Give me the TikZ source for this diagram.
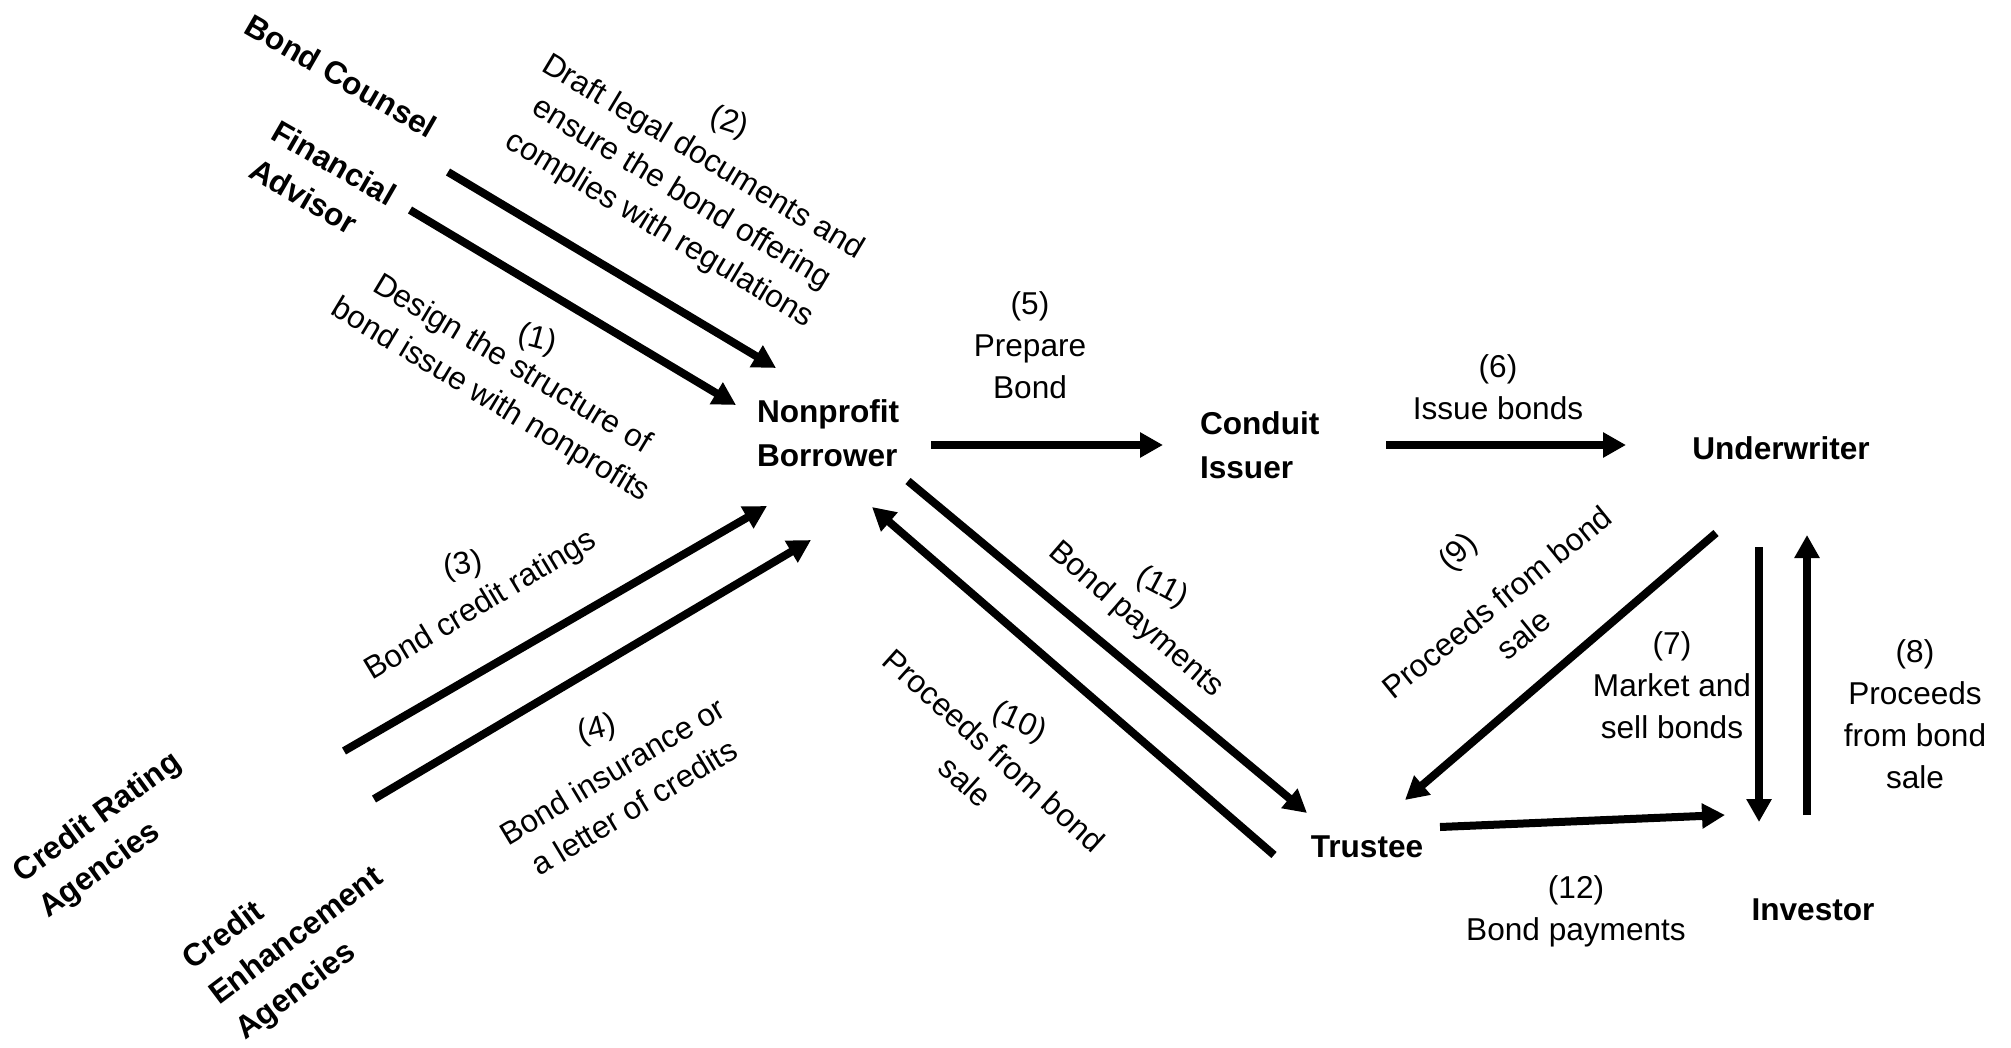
\documentclass[tikz,border=0pt]{standalone}
\usepackage{fontspec}
\setmainfont{Liberation Sans}
\usetikzlibrary{arrows.meta}
\begin{document}
\begin{tikzpicture}[x=0.5pt,y=-0.5pt,
  every node/.style={inner sep=0pt, outer sep=0pt},
  party/.style={font=\fontsize{15.8}{22}\selectfont\bfseries},
  lbl/.style={font=\fontsize{15.8}{21}\selectfont, align=center},
  num/.style={font=\fontsize{15.8}{21}\selectfont},
  flow/.style={line width=4pt, -{Triangle[length=11.5pt,width=12pt]}},
]
\useasboundingbox[fill=white] (0,0) rectangle (2011,1048);

% parties
\node[party, rotate=-30] (bc) at (341,76) {Bond Counsel};
\node[party, align=left, rotate=-30] (fa) at (323,182) {Financial\\Advisor};
\node[party, align=left, rotate=36] (cra) at (111,836) {Credit Rating\\Agencies};
\node[party, align=left, rotate=37] (cea) at (297,937) {Credit\\Enhancement\\Agencies};
\node[party, align=left, anchor=west] (nb) at (757,433) {Nonprofit\\Borrower};
\node[party, align=left, anchor=west] (ci) at (1200,445) {Conduit\\Issuer};
\node[party] (uw) at (1781,448) {Underwriter};
\node[party] (tr) at (1367,847) {Trustee};
\node[party] (inv) at (1813,910) {Investor};

% rotated labels: step number and text
\node[num, rotate=-18] (n2) at (729,123) {(2)};
\node[lbl, rotate=-31] (l2) at (681,194) {Draft legal documents and\\ensure the bond offering\\complies with regulations};
\node[num, rotate=-15] (n1) at (537,340) {(1)};
\node[lbl, rotate=-31] (l1) at (501,383) {Design the structure of\\bond issue with nonprofits};
\node[num, rotate=10] (n3) at (463,566) {(3)};
\node[lbl, rotate=31] (l3) at (481,606) {Bond credit ratings};
\node[num, rotate=14] (n4) at (597,730) {(4)};
\node[lbl, rotate=31] (l4) at (623,789) {Bond insurance or\\a letter of credits};
\node[num, rotate=46] (n9) at (1459,553) {(9)};
\node[lbl, rotate=39] (l9) at (1510,618) {Proceeds from bond\\sale};
\node[num, rotate=-25] (n10) at (1019,723) {(10)};
\node[lbl, rotate=-42] (l10) at (980,766) {Proceeds from bond\\sale};
\node[num, rotate=-28] (n11) at (1162,588) {(11)};
\node[lbl, rotate=-41] (l11) at (1136,620) {Bond payments};

% upright labels
\node[lbl] (l5) at (1030,345) {(5)\\Prepare\\Bond};
\node[lbl] (l6) at (1498,387) {(6)\\Issue bonds};
\node[lbl] (l7) at (1672,685) {(7)\\Market and\\sell bonds};
\node[lbl] (l8) at (1915,714) {(8)\\Proceeds\\from bond\\sale};
\node[lbl] (l12) at (1576,911) {(12)\\Bond payments};

% arrow end points
\coordinate (a1s) at (410,210);  \coordinate (a1e) at (736,405);
\coordinate (a2s) at (448,172);  \coordinate (a2e) at (776,368);
\coordinate (a3s) at (344,751);  \coordinate (a3e) at (767,506);
\coordinate (a4s) at (374,799);  \coordinate (a4e) at (811,540);
\coordinate (a5s) at (931,445);  \coordinate (a5e) at (1163,445);
\coordinate (a6s) at (1386,445); \coordinate (a6e) at (1626,445);
\coordinate (a7s) at (1759,547); \coordinate (a7e) at (1759,822);
\coordinate (a8s) at (1807,815); \coordinate (a8e) at (1807,535);
\coordinate (a9s) at (1716,533); \coordinate (a9e) at (1405,800);
\coordinate (a10s) at (1274,855); \coordinate (a10e) at (872,507);
\coordinate (a11s) at (908,481); \coordinate (a11e) at (1307,813);
\coordinate (a12s) at (1440,827); \coordinate (a12e) at (1725,815);

\draw[flow] (a1s) -- (a1e);
\draw[flow] (a2s) -- (a2e);
\draw[flow] (a3s) -- (a3e);
\draw[flow] (a4s) -- (a4e);
\draw[flow] (a5s) -- (a5e);
\draw[flow] (a6s) -- (a6e);
\draw[flow] (a7s) -- (a7e);
\draw[flow] (a8s) -- (a8e);
\draw[flow] (a9s) -- (a9e);
\draw[flow] (a10s) -- (a10e);
\draw[flow] (a11s) -- (a11e);
\draw[flow] (a12s) -- (a12e);
\end{tikzpicture}
\end{document}
